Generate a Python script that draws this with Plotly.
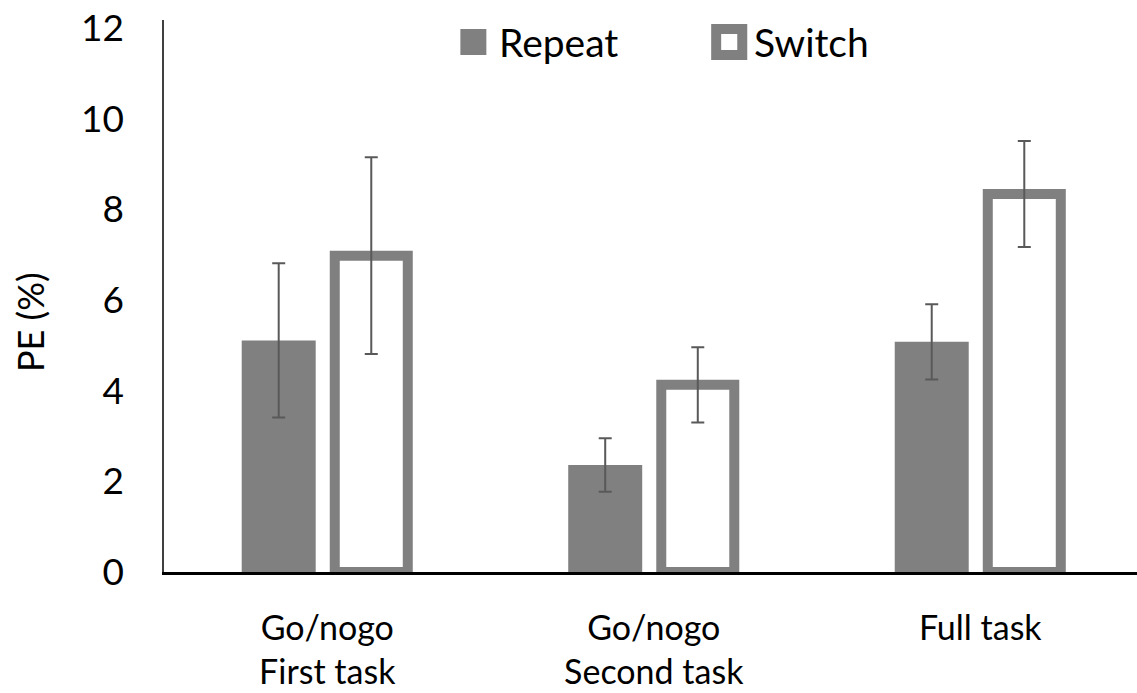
import plotly.graph_objects as go

categories = ["Go/nogo<br>First task", "Go/nogo<br>Second task", "Full task"]
repeat_vals = [5.11, 2.36, 5.08]
switch_vals = [6.98, 4.13, 8.34]
repeat_err = [1.70, 0.59, 0.83]
switch_err = [2.17, 0.83, 1.17]
y_ticks = [0, 2, 4, 6, 8, 10, 12]

GRAY = "#808080"
ERR = "#595959"
FONT = "Lato"

fig = go.Figure()
fig.add_trace(go.Bar(
    x=categories, y=repeat_vals, name="Repeat",
    marker=dict(color=GRAY, line=dict(width=0)),
    width=0.2266, offset=-0.262,
    error_y=dict(type="data", array=repeat_err, color=ERR, thickness=2, width=6.5),
    showlegend=False,
))
fig.add_trace(go.Bar(
    x=categories, y=switch_vals, name="Switch",
    marker=dict(color="white", line=dict(color=GRAY, width=10)),
    width=0.2236, offset=0.023,
    error_y=dict(type="data", array=switch_err, color=ERR, thickness=2, width=6.5),
    showlegend=False,
))

fig.update_layout(
    width=1137, height=693,
    margin=dict(l=164, r=0, t=20, b=121),
    plot_bgcolor="white", paper_bgcolor="white",
    barmode="overlay",
    font=dict(family=FONT, color="black"),
    xaxis=dict(
        range=[-0.5, 2.48], showline=True, linecolor="black", linewidth=2.5,
        ticks="", showgrid=False, zeroline=False, automargin=False,
        tickfont=dict(size=34, family=FONT), ticklabelstandoff=24,
    ),
    yaxis=dict(
        range=[0, 12.18], tickvals=y_ticks, showline=True, linecolor="#404040", linewidth=1.5,
        ticks="", showgrid=False, zeroline=False, automargin=False,
        tickfont=dict(size=37, family=FONT), ticklabelstandoff=31,
    ),
)

# y-axis title (placed slightly below centre, as in the reference)
fig.add_annotation(text="PE (%)", xref="paper", yref="paper", x=-0.1377, y=0.4529,
                   xanchor="center", yanchor="middle", textangle=-90, showarrow=False,
                   font=dict(size=36, family=FONT, color="black"))

# custom legend
fig.add_shape(type="rect", xref="paper", yref="paper",
              x0=0.3046, x1=0.3313, y0=0.9366, y1=0.9837,
              fillcolor=GRAY, line=dict(width=0))
fig.add_shape(type="rect", xref="paper", yref="paper",
              x0=0.5675, x1=0.5943, y0=0.9366, y1=0.9837,
              fillcolor="white", line=dict(color=GRAY, width=10))
fig.add_annotation(text="Repeat", xref="paper", yref="paper", x=0.3426, y=0.960,
                   xanchor="left", yanchor="middle", showarrow=False,
                   font=dict(size=39, family=FONT, color="black"))
fig.add_annotation(text="Switch", xref="paper", yref="paper", x=0.6045, y=0.960,
                   xanchor="left", yanchor="middle", showarrow=False,
                   font=dict(size=39, family=FONT, color="black"))

fig.write_html("out.html", config={"displayModeBar": False},
               post_script="document.body.style.margin='0';document.body.style.overflow='hidden';")
